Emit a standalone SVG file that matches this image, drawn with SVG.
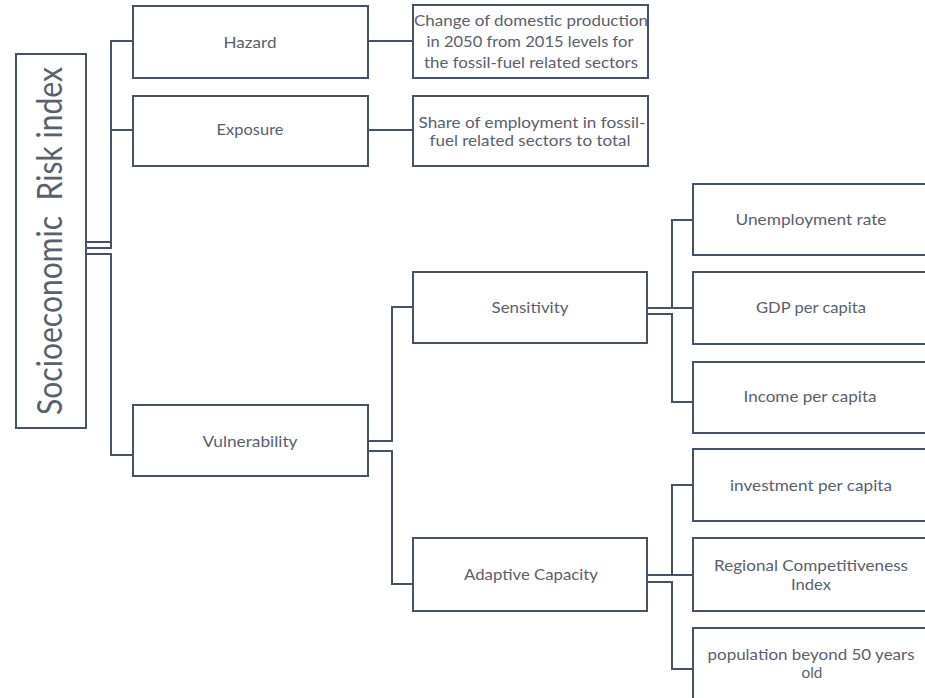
<svg xmlns="http://www.w3.org/2000/svg" width="925" height="698" viewBox="0 0 925 698">
<style>
.box{fill:#ffffff;stroke:#465366;stroke-width:2}
.con{fill:none;stroke:#465366;stroke-width:2}
text{font-family:Lato,"Open Sans","Liberation Sans",sans-serif;font-size:16px;fill:#5a616d;text-anchor:middle}
.title{font-size:34px}
</style>
<rect width="925" height="698" fill="#ffffff"/>
<g id="connectors">
<path class="con" d="M86,242 H111 V41 H133"/>
<path class="con" d="M86,248 H111 V130 H133"/>
<path class="con" d="M86,254 H111 V455 H133"/>
<path class="con" d="M368,41 H413"/>
<path class="con" d="M368,130 H413"/>
<path class="con" d="M368,441 H392 V307 H413"/>
<path class="con" d="M368,451 H392 V584 H413"/>
<path class="con" d="M647,308 H672 V220 H693"/>
<path class="con" d="M647,308 H693"/>
<path class="con" d="M647,314 H672 V402 H693"/>
<path class="con" d="M647,575 H672 V485 H693"/>
<path class="con" d="M647,575 H693"/>
<path class="con" d="M647,582 H672 V669 H693"/>
</g>
<g id="root">
<rect class="box" x="16" y="54" width="70" height="374"/>
<text class="title" transform="translate(62,241) rotate(-90)" xml:space="preserve" textLength="348" lengthAdjust="spacingAndGlyphs">Socioeconomic  Risk index</text>
</g>
<g id="hazard">
<rect class="box" x="133" y="6" width="235" height="72"/>
<text x="250" y="48" textLength="53" lengthAdjust="spacingAndGlyphs">Hazard</text>
</g>
<g id="exposure">
<rect class="box" x="133" y="96" width="235" height="70"/>
<text x="250" y="135" textLength="67" lengthAdjust="spacingAndGlyphs">Exposure</text>
</g>
<g id="vulnerability">
<rect class="box" x="133" y="405" width="235" height="71"/>
<text x="250" y="447" textLength="95" lengthAdjust="spacingAndGlyphs">Vulnerability</text>
</g>
<g id="hazard-desc">
<rect class="box" x="413" y="5" width="235" height="73"/>
<text x="531" y="26" textLength="234" lengthAdjust="spacingAndGlyphs">Change of domestic production</text>
<text x="530" y="47" textLength="207" lengthAdjust="spacingAndGlyphs">in 2050 from 2015 levels for</text>
<text x="531" y="68" textLength="214" lengthAdjust="spacingAndGlyphs">the fossil-fuel related sectors</text>
</g>
<g id="exposure-desc">
<rect class="box" x="413" y="96" width="235" height="70"/>
<text x="532" y="128" textLength="227" lengthAdjust="spacingAndGlyphs">Share of employment in fossil-</text>
<text x="530" y="146" textLength="201" lengthAdjust="spacingAndGlyphs">fuel related sectors to total</text>
</g>
<g id="sensitivity">
<rect class="box" x="413" y="272" width="234" height="71"/>
<text x="530" y="313" textLength="77" lengthAdjust="spacingAndGlyphs">Sensitivity</text>
</g>
<g id="adaptive-capacity">
<rect class="box" x="413" y="538" width="234" height="73"/>
<text x="531" y="580" textLength="134" lengthAdjust="spacingAndGlyphs">Adaptive Capacity</text>
</g>
<g id="unemployment">
<rect class="box" x="693" y="184" width="235" height="71"/>
<text x="811" y="225" textLength="151" lengthAdjust="spacingAndGlyphs">Unemployment rate</text>
</g>
<g id="gdp">
<rect class="box" x="693" y="272" width="235" height="72"/>
<text x="811" y="313" textLength="110" lengthAdjust="spacingAndGlyphs">GDP per capita</text>
</g>
<g id="income">
<rect class="box" x="693" y="362" width="235" height="71"/>
<text x="810" y="402" textLength="133" lengthAdjust="spacingAndGlyphs">Income per capita</text>
</g>
<g id="investment">
<rect class="box" x="693" y="449" width="235" height="72"/>
<text x="811" y="491" textLength="162" lengthAdjust="spacingAndGlyphs">investment per capita</text>
</g>
<g id="competitiveness">
<rect class="box" x="693" y="538" width="235" height="73"/>
<text x="811" y="571" textLength="194" lengthAdjust="spacingAndGlyphs">Regional Competitiveness</text>
<text x="811" y="590" textLength="40" lengthAdjust="spacingAndGlyphs">Index</text>
</g>
<g id="population">
<rect class="box" x="693" y="628" width="235" height="74"/>
<text x="811" y="660" textLength="207" lengthAdjust="spacingAndGlyphs">population beyond 50 years</text>
<text x="812" y="678" textLength="21" lengthAdjust="spacingAndGlyphs">old</text>
</g>
</svg>
